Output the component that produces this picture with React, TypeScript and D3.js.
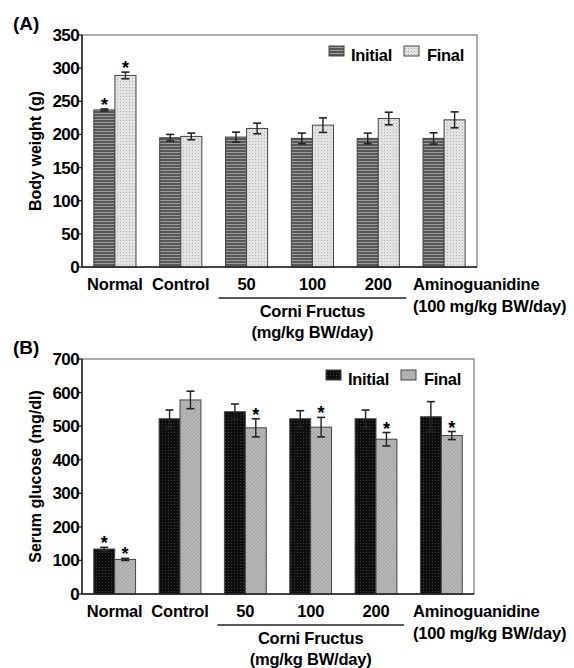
import React from "react";
import * as d3 from "d3";

const width = 574;
const height = 668;

const groups = ["Normal", "Control", "50", "100", "200", "Aminoguanidine"];
const series = ["Initial", "Final"];

// (A) body weight, g
const bwInitial = [237, 195, 196, 194, 194, 194];
const bwInitialErr = [1.5, 5, 7.5, 8, 8, 8.5];
const bwFinal = [289, 197, 209, 214, 224, 222];
const bwFinalErr = [5, 5, 8, 11, 9.5, 12];
const bwInitialSig = [true, false, false, false, false, false];
const bwFinalSig = [true, false, false, false, false, false];
const bwTicks = [0, 50, 100, 150, 200, 250, 300, 350];

// (B) serum glucose, mg/dl
const gluInitial = [134, 522, 543, 522, 522, 528];
const gluInitialErr = [5, 26, 23, 24, 26, 45];
const gluFinal = [103, 578, 495, 497, 461, 472];
const gluFinalErr = [3, 26, 27, 29, 20, 12];
const gluInitialSig = [true, false, false, false, false, false];
const gluFinalSig = [true, false, true, true, true, true];
const gluTicks = [0, 100, 200, 300, 400, 500, 600, 700];

const font = "'Liberation Sans', Arial, sans-serif";

function Panel({label, top, bottom, right, max, ticks, yLabel, initial, initialErr, final, finalErr, initialSig, finalSig, fills, legendX}) {
    const left = 82;
    const x = d3.scaleBand().domain(groups).range([left, right]).paddingInner(0.36).paddingOuter(0.18);
    const sub = d3.scaleBand().domain(series).range([0, x.bandwidth()]);
    const y = d3.scaleLinear().domain([0, max]).range([bottom, top]);

    const rows = [
        {key: "Initial", vals: initial, errs: initialErr, sig: initialSig, fill: fills[0]},
        {key: "Final", vals: final, errs: finalErr, sig: finalSig, fill: fills[1]},
    ];

    const lineX0 = x("50") - 7;
    const lineX1 = x("200") + x.bandwidth() + 7;
    const corniCx = (lineX0 + lineX1) / 2;

    return (
        <g fontFamily={font} fontWeight="bold">
            <text x={13} y={top - 5} fontSize={19}>{label}</text>
            <rect x={left} y={top} width={right - left} height={bottom - top} fill="none" stroke="#777" strokeWidth={1.2}/>
            {ticks.map(t => (
                <g key={t}>
                    <line x1={left - 4} x2={left} y1={y(t)} y2={y(t)} stroke="#222" strokeWidth={1.3}/>
                    <text x={79} y={y(t) + 6} fontSize={17} textAnchor="end" letterSpacing={-0.6}>{t}</text>
                </g>
            ))}
            <text transform={`translate(41,${(top + bottom) / 2}) rotate(-90)`} fontSize={16} textAnchor="middle">{yLabel}</text>

            {rows.map(r => groups.map((g, i) => {
                const bx = x(g) + sub(r.key);
                const bw = sub.bandwidth();
                const cx = bx + bw / 2;
                const yTop = y(r.vals[i] + r.errs[i]);
                const yBot = y(r.vals[i] - r.errs[i]);
                return (
                    <g key={r.key + g}>
                        <rect x={bx} y={y(r.vals[i])} width={bw} height={bottom - y(r.vals[i])} fill={r.fill} stroke="#444" strokeWidth={1}/>
                        <line x1={cx} x2={cx} y1={yTop} y2={yBot} stroke="#222" strokeWidth={1.4}/>
                        <line x1={cx - 4} x2={cx + 4} y1={yTop} y2={yTop} stroke="#222" strokeWidth={1.6}/>
                        <line x1={cx - 4} x2={cx + 4} y1={yBot} y2={yBot} stroke="#222" strokeWidth={1.6}/>
                        {r.sig[i] && <text x={cx} y={yTop + 2} fontSize={18} textAnchor="middle">*</text>}
                    </g>
                );
            }))}

            <line x1={left} x2={left} y1={top} y2={bottom} stroke="#222" strokeWidth={1.5}/>
            <line x1={left} x2={right} y1={bottom} y2={bottom} stroke="#222" strokeWidth={1.5}/>

            <g fontSize={16.5}>
                <rect x={legendX} y={top + 11} width={15} height={10} fill={fills[0]} stroke="#444"/>
                <text x={legendX + 22} y={top + 26} letterSpacing={-0.3}>Initial</text>
                <rect x={legendX + 75} y={top + 11} width={15} height={10} fill={fills[1]} stroke="#444"/>
                <text x={legendX + 98} y={top + 26} letterSpacing={-0.3}>Final</text>
            </g>

            <g fontSize={16.5} letterSpacing={-0.2}>
                {groups.slice(0, 5).map(g => (
                    <text key={g} x={x(g) + x.bandwidth() / 2} y={bottom + 23} textAnchor="middle">{g}</text>
                ))}
                <text x={413} y={bottom + 23}>Aminoguanidine</text>
                <text x={413} y={bottom + 45}>(100 mg/kg BW/day)</text>
                <line x1={lineX0} x2={lineX1} y1={bottom + 31} y2={bottom + 31} stroke="#222" strokeWidth={1.5}/>
                <text x={corniCx} y={bottom + 50} textAnchor="middle">Corni Fructus</text>
                <text x={corniCx} y={bottom + 71} textAnchor="middle">(mg/kg BW/day)</text>
            </g>
        </g>
    );
}

export default function App() {
    return (
        <svg width={width} height={height} style={{position: "absolute", left: 0, top: 0, background: "#fff"}}>
            <defs>
                <pattern id="stripes" width={4} height={3} patternUnits="userSpaceOnUse">
                    <rect width={4} height={3} fill="#575757"/>
                    <rect y={2} width={4} height={1} fill="#9c9c9c"/>
                </pattern>
                <pattern id="dotsLight" width={3} height={3} patternUnits="userSpaceOnUse">
                    <rect width={3} height={3} fill="#e2e2e2"/>
                    <rect width={1} height={1} fill="#b4b4b4"/>
                </pattern>
                <pattern id="dotsDark" width={3} height={3} patternUnits="userSpaceOnUse">
                    <rect width={3} height={3} fill="#0e0e0e"/>
                    <rect width={1} height={1} fill="#3a3a3a"/>
                </pattern>
                <pattern id="hatch" width={2.5} height={2.5} patternUnits="userSpaceOnUse" patternTransform="rotate(45)">
                    <rect width={2.5} height={2.5} fill="#bdbdbd"/>
                    <rect width={1} height={2.5} fill="#a0a0a0"/>
                </pattern>
            </defs>
            <Panel label="(A)" top={35} bottom={267} right={477} max={350} ticks={bwTicks}
                   yLabel="Body weight (g)" initial={bwInitial} initialErr={bwInitialErr}
                   final={bwFinal} finalErr={bwFinalErr} initialSig={bwInitialSig} finalSig={bwFinalSig}
                   fills={["url(#stripes)", "url(#dotsLight)"]} legendX={329}/>
            <Panel label="(B)" top={359} bottom={594} right={474} max={700} ticks={gluTicks}
                   yLabel="Serum glucose (mg/dl)" initial={gluInitial} initialErr={gluInitialErr}
                   final={gluFinal} finalErr={gluFinalErr} initialSig={gluInitialSig} finalSig={gluFinalSig}
                   fills={["url(#dotsDark)", "url(#hatch)"]} legendX={326}/>
        </svg>
    );
}
